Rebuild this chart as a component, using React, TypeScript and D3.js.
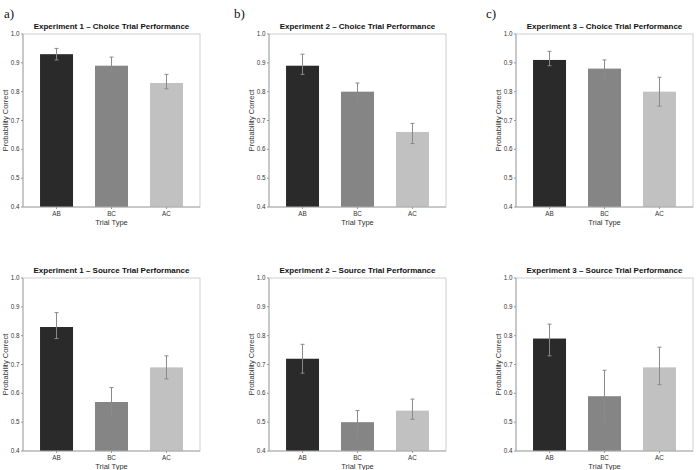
import React from "react";
import * as d3 from "d3";

const categories = ["AB", "BC", "AC"];
const barColors = ["#2a2a2a", "#858585", "#c1c1c1"];
const yTicks = [0.4, 0.5, 0.6, 0.7, 0.8, 0.9, 1.0];

const exp1ChoiceMean = [0.93, 0.89, 0.83];
const exp1ChoiceLow = [0.91, 0.87, 0.81];
const exp1ChoiceHigh = [0.95, 0.92, 0.86];

const exp2ChoiceMean = [0.89, 0.8, 0.66];
const exp2ChoiceLow = [0.86, 0.77, 0.62];
const exp2ChoiceHigh = [0.93, 0.83, 0.69];

const exp3ChoiceMean = [0.91, 0.88, 0.8];
const exp3ChoiceLow = [0.89, 0.84, 0.75];
const exp3ChoiceHigh = [0.94, 0.91, 0.85];

const exp1SourceMean = [0.83, 0.57, 0.69];
const exp1SourceLow = [0.79, 0.52, 0.65];
const exp1SourceHigh = [0.88, 0.62, 0.73];

const exp2SourceMean = [0.72, 0.5, 0.54];
const exp2SourceLow = [0.67, 0.45, 0.51];
const exp2SourceHigh = [0.77, 0.54, 0.58];

const exp3SourceMean = [0.79, 0.59, 0.69];
const exp3SourceLow = [0.73, 0.5, 0.63];
const exp3SourceHigh = [0.84, 0.68, 0.76];

const panelLabels = ["a)", "b)", "c)"];
const panelTitles = [
  "Experiment 1 – Choice Trial Performance",
  "Experiment 2 – Choice Trial Performance",
  "Experiment 3 – Choice Trial Performance",
  "Experiment 1 – Source Trial Performance",
  "Experiment 2 – Source Trial Performance",
  "Experiment 3 – Source Trial Performance",
];
const panelData = [
  [exp1ChoiceMean, exp1ChoiceLow, exp1ChoiceHigh],
  [exp2ChoiceMean, exp2ChoiceLow, exp2ChoiceHigh],
  [exp3ChoiceMean, exp3ChoiceLow, exp3ChoiceHigh],
  [exp1SourceMean, exp1SourceLow, exp1SourceHigh],
  [exp2SourceMean, exp2SourceLow, exp2SourceHigh],
  [exp3SourceMean, exp3SourceLow, exp3SourceHigh],
];

const colLefts = [23, 269, 516];
const rowTops = [34, 278];
const plotW = 177;
const plotH = 173;
const FONT = "'Liberation Sans', Arial, Helvetica, sans-serif";

function Panel({ idx }: { idx: number }) {
  const col = idx % 3;
  const row = Math.floor(idx / 3);
  const left = colLefts[col];
  const top = rowTops[row];
  const [mean, low, high] = panelData[idx];
  const x = d3.scaleBand<string>().domain(categories).range([0, plotW]).paddingInner(0.4).paddingOuter(0.31);
  const y = d3.scaleLinear().domain([0.4, 1.0]).range([plotH, 0]);
  const bw = x.bandwidth();
  return (
    <g transform={`translate(${left},${top})`}>
      <text x={plotW / 2} y={-5} textAnchor="middle" fontFamily={FONT} fontWeight="bold" fontSize={8} fill="#111">
        {panelTitles[idx]}
      </text>
      <rect x={0} y={0} width={plotW} height={plotH} fill="none" stroke="#cfcfcf" strokeWidth={1} />
      {categories.map((c, i) => (
        <rect key={c} x={x(c)!} y={y(mean[i])} width={bw} height={plotH - y(mean[i])} fill={barColors[i]} />
      ))}
      {categories.map((c, i) => {
        const cx = x(c)! + bw / 2;
        return (
          <g key={"e" + c} stroke="#8a8a8a" strokeWidth={1}>
            <line x1={cx} x2={cx} y1={y(low[i])} y2={y(high[i])} />
            <line x1={cx - 2} x2={cx + 2} y1={y(low[i])} y2={y(low[i])} />
            <line x1={cx - 2} x2={cx + 2} y1={y(high[i])} y2={y(high[i])} />
          </g>
        );
      })}
      <line x1={0} x2={0} y1={0} y2={plotH} stroke="#aaa" />
      <line x1={0} x2={plotW} y1={plotH} y2={plotH} stroke="#aaa" />
      {yTicks.map((t) => (
        <g key={t} transform={`translate(0,${y(t)})`}>
          <line x1={-2} x2={0} stroke="#999" />
          <text x={-3.5} dy="0.33em" textAnchor="end" fontFamily={FONT} fontSize={6.3} fill="#333">
            {d3.format(".1f")(t)}
          </text>
        </g>
      ))}
      {categories.map((c) => (
        <g key={"t" + c} transform={`translate(${x(c)! + bw / 2},${plotH})`}>
          <line y1={0} y2={2} stroke="#999" />
          <text y={8.5} textAnchor="middle" fontFamily={FONT} fontSize={6.3} fill="#333">
            {c}
          </text>
        </g>
      ))}
      <text x={plotW / 2} y={plotH + 18} textAnchor="middle" fontFamily={FONT} fontSize={7.5} fill="#333">
        Trial Type
      </text>
      <text
        transform={`translate(${-15},${plotH / 2}) rotate(-90)`}
        textAnchor="middle"
        fontFamily={FONT}
        fontSize={7.5}
        fill="#333"
      >
        Probability Correct
      </text>
    </g>
  );
}

export default function App() {
  const labelX = [4, 234, 486];
  return (
    <svg width={700} height={470} style={{ position: "absolute", left: 0, top: 0, background: "#fff" }}>
      <rect width={700} height={470} fill="#fff" />
      {panelLabels.map((l, i) => (
        <text key={l} x={labelX[i]} y={18} fontFamily="'Liberation Serif', 'Times New Roman', serif" fontSize={13} fill="#111">
          {l}
        </text>
      ))}
      {[0, 1, 2, 3, 4, 5].map((i) => (
        <Panel key={i} idx={i} />
      ))}
    </svg>
  );
}
